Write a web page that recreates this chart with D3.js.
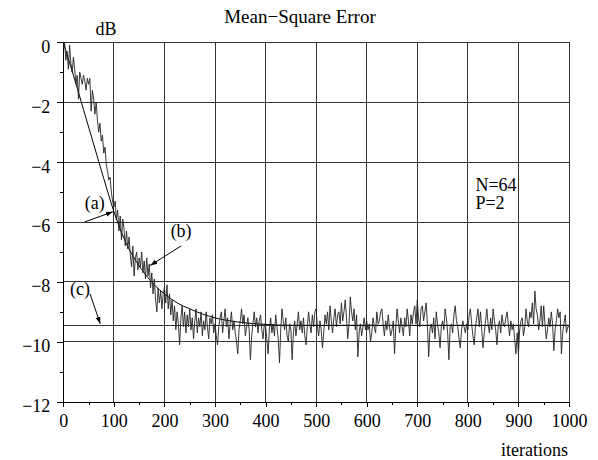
<!DOCTYPE html>
<meta charset="utf-8">
<style>
body { margin: 0; background: #fff; }
svg, svg text { font-family: "Liberation Serif", "Times New Roman", "DejaVu Serif", serif; }
</style>
<body>
<script src="https://d3js.org/d3.v7.min.js"></script>
<script>

var width = 598,
    height = 460;

// measured learning curve, one sample every 2.5 iterations (dB), 50 iterations per row
var noisyStep = 2.5;
var noisyDb = [
  -0.2, 0.0, -0.6, -0.3, -0.9, -0.1, -0.7, -1.0, -0.5, -0.9, -1.4, -1.1, -1.9, -1.0, -1.2, -1.4, -1.1, -1.3, -1.6, -1.2,
  -1.4, -1.2, -2.3, -1.6, -1.9, -2.4, -2.0, -2.6, -3.0, -2.7, -3.3, -3.1, -3.7, -3.5, -4.1, -4.3, -4.6, -4.5, -5.0, -5.3,
  -5.5, -5.3, -5.9, -5.6, -6.3, -5.8, -6.6, -5.9, -6.2, -6.8, -6.3, -6.9, -6.5, -7.1, -7.5, -6.8, -7.8, -7.2, -7.0, -7.6,
  -7.2, -7.5, -7.0, -7.7, -7.3, -7.9, -7.2, -7.8, -7.4, -8.2, -7.7, -8.4, -7.9, -8.6, -9.0, -8.2, -8.7, -8.3, -8.9, -8.4,
  -8.2, -8.7, -8.1, -8.9, -8.4, -9.1, -8.6, -9.3, -8.8, -9.6, -9.0, -9.4, -10.1, -9.2, -8.8, -9.5, -9.0, -9.7, -9.1, -9.5,
  -8.9, -9.6, -9.2, -9.9, -9.3, -8.9, -9.7, -9.2, -9.5, -9.0, -9.8, -9.3, -9.6, -9.0, -9.5, -9.9, -9.2, -9.4, -9.1, -9.7,
  -9.4, -9.8, -10.1, -9.5, -9.2, -9.0, -9.7, -9.3, -8.9, -9.5, -9.2, -9.9, -9.4, -9.0, -9.6, -9.3, -9.7, -10.0, -10.4, -9.6,
  -9.3, -8.9, -9.4, -9.1, -9.8, -9.5, -9.2, -9.6, -10.6, -9.8, -9.4, -9.0, -9.5, -9.2, -9.7, -9.3, -9.1, -9.6, -9.9, -9.4,
  -9.5, -9.9, -10.4, -9.6, -9.2, -9.7, -9.4, -9.8, -9.1, -9.5, -9.9, -10.7, -9.6, -8.9, -9.3, -9.6, -9.2, -9.8, -10.0, -9.4,
  -9.6, -10.6, -9.7, -9.3, -9.8, -9.4, -9.0, -9.6, -9.3, -9.7, -9.2, -9.8, -10.1, -9.5, -9.0, -9.4, -9.7, -9.1, -9.5, -9.0,
  -8.9, -9.5, -9.8, -9.3, -9.6, -10.2, -9.7, -9.1, -9.4, -9.0, -9.6, -8.8, -9.3, -9.7, -9.2, -8.9, -9.5, -9.1, -9.0, -9.4,
  -8.7, -9.3, -9.0, -8.6, -9.2, -9.9, -9.4, -8.5, -9.0, -9.3, -8.9, -9.6, -9.1, -10.5, -9.7, -9.4, -9.8, -9.5, -9.2, -9.6,
  -9.3, -9.6, -9.4, -10.0, -9.7, -9.2, -9.5, -9.7, -9.0, -9.4, -9.3, -9.0, -8.9, -9.4, -9.8, -9.3, -9.6, -9.1, -9.5, -9.8,
  -9.6, -9.3, -10.4, -9.5, -8.9, -9.3, -9.7, -9.2, -9.5, -9.8, -9.2, -9.5, -8.9, -9.3, -9.8, -9.1, -9.4, -9.0, -8.8, -9.4,
  -8.6, -9.2, -9.5, -8.9, -8.8, -9.3, -9.0, -8.7, -9.4, -10.5, -9.6, -9.4, -9.7, -9.2, -9.9, -9.0, -9.4, -9.7, -10.2, -9.5,
  -9.3, -9.6, -8.9, -9.2, -9.7, -10.6, -9.5, -9.4, -9.7, -9.1, -8.8, -9.3, -9.5, -9.9, -10.2, -9.6, -9.3, -9.5, -9.7, -9.4,
  -9.6, -9.1, -8.9, -9.4, -9.8, -10.1, -9.5, -9.2, -8.9, -9.5, -9.0, -9.6, -10.2, -9.7, -9.3, -8.9, -9.4, -9.7, -9.2, -9.6,
  -8.9, -9.3, -9.6, -10.1, -9.5, -9.3, -9.7, -9.1, -9.4, -9.5, -9.2, -9.0, -9.4, -9.8, -9.3, -9.6, -9.4, -9.9, -10.4, -9.7,
  -10.4, -9.6, -9.3, -9.2, -9.8, -9.5, -8.9, -9.3, -9.5, -9.0, -9.2, -8.7, -9.4, -8.3, -8.9, -9.1, -9.6, -9.3, -8.8, -9.5,
  -8.8, -9.4, -9.9, -9.6, -9.2, -9.5, -9.0, -9.4, -10.3, -9.6, -9.3, -8.9, -9.2, -9.0, -10.4, -9.7, -9.4, -9.1, -9.7, -9.5,
  -9.5
];

// theoretical curve (a)
var theoryIter = [0, 20, 40, 60, 80, 100, 120, 140, 160, 180, 200, 225, 250, 275, 300, 350, 400, 450, 600, 800, 1000];
var theoryDb   = [0, -1.1, -2.25, -3.4, -4.55, -5.65, -6.55, -7.2, -7.7, -8.1, -8.4, -8.7, -8.9, -9.07, -9.2, -9.35, -9.42, -9.45, -9.45, -9.45, -9.45];

// steady-state level (c)
var minDb = -9.45;

var xTicks = d3.range(0, 1001, 100),
    xMinor = d3.range(50, 1000, 100),
    yTicks = [-12, -10, -8, -6, -4, -2, 0],
    yMinor = [-11, -9, -7, -5, -3, -1];

// label position and arrow start/tip, in data units
var notes = [
  {label: "(a)", tx: 62, ty: -5.55, ax: 42, ay: -6.0, bx: 98, by: -5.66},
  {label: "(b)", tx: 233, ty: -6.5, ax: 233, ay: -6.8, bx: 172, by: -7.45},
  {label: "(c)", tx: 33, ty: -8.45, ax: 53, ay: -8.4, bx: 73, by: -9.4}
];

var svg = d3.select("body").append("svg")
    .attr("width", width)
    .attr("height", height);

var x = d3.scaleLinear().domain([0, 1000]).range([63.3, 569]),
    y = d3.scaleLinear().domain([-12, 0]).range([401.7, 42.3]);

var serif = "'Liberation Serif', 'Times New Roman', serif";

svg.append("defs").append("marker")
    .attr("id", "arr")
    .attr("viewBox", "0 0 10 10")
    .attr("refX", 10).attr("refY", 5)
    .attr("markerWidth", 7).attr("markerHeight", 7)
    .attr("markerUnits", "userSpaceOnUse")
    .attr("orient", "auto")
  .append("path")
    .attr("d", "M0,1.5L10,5L0,8.5Z")
    .attr("fill", "#000");

// grid
var grid = svg.append("g")
    .attr("stroke", "#333")
    .attr("stroke-width", 1)
    .attr("shape-rendering", "crispEdges");

grid.selectAll(".vx").data(xTicks.slice(1))
  .enter().append("line")
    .attr("x1", d => x(d)).attr("x2", d => x(d))
    .attr("y1", y(-12)).attr("y2", y(0));

grid.selectAll(".hy").data(yTicks.slice(1))
  .enter().append("line")
    .attr("x1", x(0)).attr("x2", x(1000))
    .attr("y1", d => y(d)).attr("y2", d => y(d));

grid.append("line")
    .attr("x1", x(0)).attr("x2", x(1000))
    .attr("y1", y(minDb)).attr("y2", y(minDb));

// axes
var axL = svg.append("g")
    .attr("transform", "translate(" + x(0) + ",0)")
    .call(d3.axisLeft(y).tickValues(yTicks).tickSize(6).tickSizeOuter(0).tickPadding(7)
      .tickFormat(d => d < 0 ? "\u2212" + (-d) : d));
axL.selectAll("text").attr("dy", "0.55em");

svg.append("g")
    .attr("transform", "translate(" + x(0) + ",0)")
    .call(d3.axisLeft(y).tickValues(yMinor).tickSize(3).tickFormat(""))
    .select(".domain").remove();

svg.append("g")
    .attr("transform", "translate(0," + y(-12) + ")")
    .call(d3.axisBottom(x).tickValues(xTicks).tickSize(5).tickSizeOuter(0).tickPadding(8)
      .tickFormat(d3.format("d")));

svg.append("g")
    .attr("transform", "translate(0," + y(-12) + ")")
    .call(d3.axisBottom(x).tickValues(xMinor).tickSize(3).tickFormat(""))
    .select(".domain").remove();

svg.selectAll("g").attr("font-family", serif);
svg.selectAll(".tick text")
    .style("font-family", serif)
    .style("font-size", "18px");
svg.selectAll(".tick line, .domain").attr("stroke", "#000").attr("shape-rendering", "crispEdges");

// curves
var noisy = noisyDb.map((v, i) => [i * noisyStep, v]);
var theory = theoryIter.map((t, i) => [t, theoryDb[i]]);

svg.append("path")
    .datum(theory)
    .attr("fill", "none")
    .attr("stroke", "#000")
    .attr("stroke-width", 1)
    .attr("d", d3.line().x(d => x(d[0])).y(d => y(d[1])).curve(d3.curveMonotoneX));

svg.append("path")
    .datum(noisy)
    .attr("fill", "none")
    .attr("stroke", "#222")
    .attr("stroke-width", 0.9)
    .attr("stroke-linejoin", "round")
    .attr("d", d3.line().x(d => x(d[0])).y(d => y(d[1])));

// annotations
svg.selectAll(".note").data(notes)
  .enter().append("text")
    .attr("x", d => x(d.tx))
    .attr("y", d => y(d.ty))
    .attr("text-anchor", "middle")
    .style("font-family", serif)
    .style("font-size", "18px")
    .text(d => d.label);

svg.selectAll(".arrow").data(notes)
  .enter().append("line")
    .attr("x1", d => x(d.ax)).attr("y1", d => y(d.ay))
    .attr("x2", d => x(d.bx)).attr("y2", d => y(d.by))
    .attr("stroke", "#000")
    .attr("stroke-width", 1)
    .attr("marker-end", "url(#arr)");

function label(t, px, py, anchor, size) {
  svg.append("text")
      .attr("x", px).attr("y", py)
      .attr("text-anchor", anchor)
      .style("font-family", serif)
      .style("font-size", size + "px")
      .text(t);
}

label("N=64", x(815), y(-4.95), "start", 18);
label("P=2", x(815), y(-5.57), "start", 18);
label("Mean\u2212Square Error", 300, 23, "middle", 19);
label("dB", 106, 35, "middle", 18);
label("iterations", 568, 456, "end", 18);

</script>
